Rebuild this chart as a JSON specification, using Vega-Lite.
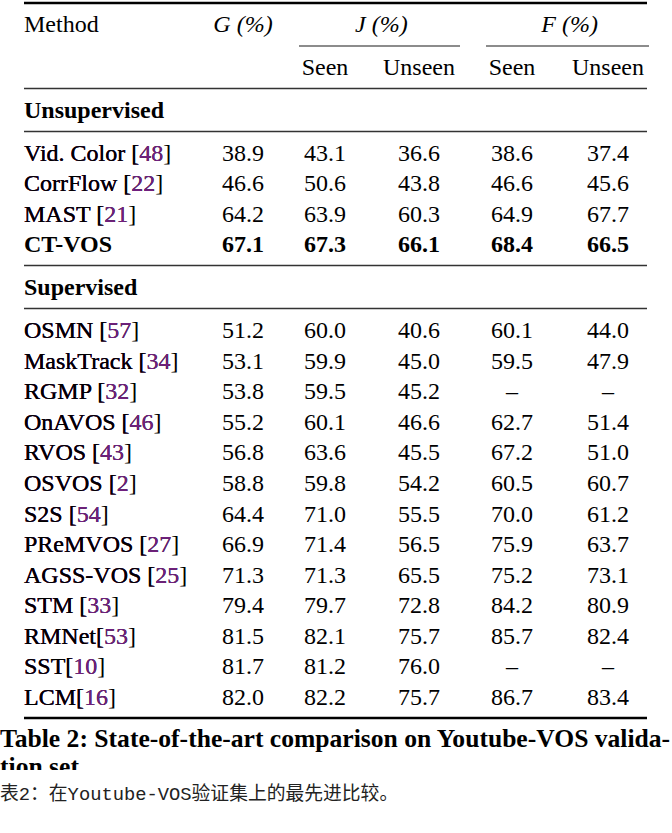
{
  "$schema": "https://vega.github.io/schema/vega-lite/v6.json",
  "width": 672,
  "height": 833,
  "padding": 0,
  "autosize": {"type": "fit", "contains": "padding"},
  "background": "white",
  "config": {"view": {"stroke": null}, "text": {"font": "'Liberation Serif', 'Times New Roman', 'DejaVu Serif', serif"}},
  "datasets": {
    "cells": [
      {"r": 0, "c": 0, "t": "Method", "s": "n"},
      {"r": 0, "c": 1, "t": "G (%)", "s": "i"},
      {"r": 0, "c": 2.6, "t": "J (%)", "s": "i"},
      {"r": 0, "c": 4.6, "t": "F (%)", "s": "i"},
      {"r": 1, "c": 2, "t": "Seen", "s": "n"},
      {"r": 1, "c": 3, "t": "Unseen", "s": "n"},
      {"r": 1, "c": 4, "t": "Seen", "s": "n"},
      {"r": 1, "c": 5, "t": "Unseen", "s": "n"},
      {"r": 2, "c": 0, "t": "Unsupervised", "s": "b"},
      {"r": 3, "c": 0, "t": "Vid. Color [48]", "s": "n"},
      {"r": 3, "c": 1, "t": "38.9", "s": "n"},
      {"r": 3, "c": 2, "t": "43.1", "s": "n"},
      {"r": 3, "c": 3, "t": "36.6", "s": "n"},
      {"r": 3, "c": 4, "t": "38.6", "s": "n"},
      {"r": 3, "c": 5, "t": "37.4", "s": "n"},
      {"r": 4, "c": 0, "t": "CorrFlow [22]", "s": "n"},
      {"r": 4, "c": 1, "t": "46.6", "s": "n"},
      {"r": 4, "c": 2, "t": "50.6", "s": "n"},
      {"r": 4, "c": 3, "t": "43.8", "s": "n"},
      {"r": 4, "c": 4, "t": "46.6", "s": "n"},
      {"r": 4, "c": 5, "t": "45.6", "s": "n"},
      {"r": 5, "c": 0, "t": "MAST [21]", "s": "n"},
      {"r": 5, "c": 1, "t": "64.2", "s": "n"},
      {"r": 5, "c": 2, "t": "63.9", "s": "n"},
      {"r": 5, "c": 3, "t": "60.3", "s": "n"},
      {"r": 5, "c": 4, "t": "64.9", "s": "n"},
      {"r": 5, "c": 5, "t": "67.7", "s": "n"},
      {"r": 6, "c": 0, "t": "CT-VOS", "s": "b"},
      {"r": 6, "c": 1, "t": "67.1", "s": "b"},
      {"r": 6, "c": 2, "t": "67.3", "s": "b"},
      {"r": 6, "c": 3, "t": "66.1", "s": "b"},
      {"r": 6, "c": 4, "t": "68.4", "s": "b"},
      {"r": 6, "c": 5, "t": "66.5", "s": "b"},
      {"r": 7, "c": 0, "t": "Supervised", "s": "b"},
      {"r": 8, "c": 0, "t": "OSMN [57]", "s": "n"},
      {"r": 8, "c": 1, "t": "51.2", "s": "n"},
      {"r": 8, "c": 2, "t": "60.0", "s": "n"},
      {"r": 8, "c": 3, "t": "40.6", "s": "n"},
      {"r": 8, "c": 4, "t": "60.1", "s": "n"},
      {"r": 8, "c": 5, "t": "44.0", "s": "n"},
      {"r": 9, "c": 0, "t": "MaskTrack [34]", "s": "n"},
      {"r": 9, "c": 1, "t": "53.1", "s": "n"},
      {"r": 9, "c": 2, "t": "59.9", "s": "n"},
      {"r": 9, "c": 3, "t": "45.0", "s": "n"},
      {"r": 9, "c": 4, "t": "59.5", "s": "n"},
      {"r": 9, "c": 5, "t": "47.9", "s": "n"},
      {"r": 10, "c": 0, "t": "RGMP [32]", "s": "n"},
      {"r": 10, "c": 1, "t": "53.8", "s": "n"},
      {"r": 10, "c": 2, "t": "59.5", "s": "n"},
      {"r": 10, "c": 3, "t": "45.2", "s": "n"},
      {"r": 10, "c": 4, "t": "–", "s": "n"},
      {"r": 10, "c": 5, "t": "–", "s": "n"},
      {"r": 11, "c": 0, "t": "OnAVOS [46]", "s": "n"},
      {"r": 11, "c": 1, "t": "55.2", "s": "n"},
      {"r": 11, "c": 2, "t": "60.1", "s": "n"},
      {"r": 11, "c": 3, "t": "46.6", "s": "n"},
      {"r": 11, "c": 4, "t": "62.7", "s": "n"},
      {"r": 11, "c": 5, "t": "51.4", "s": "n"},
      {"r": 12, "c": 0, "t": "RVOS [43]", "s": "n"},
      {"r": 12, "c": 1, "t": "56.8", "s": "n"},
      {"r": 12, "c": 2, "t": "63.6", "s": "n"},
      {"r": 12, "c": 3, "t": "45.5", "s": "n"},
      {"r": 12, "c": 4, "t": "67.2", "s": "n"},
      {"r": 12, "c": 5, "t": "51.0", "s": "n"},
      {"r": 13, "c": 0, "t": "OSVOS [2]", "s": "n"},
      {"r": 13, "c": 1, "t": "58.8", "s": "n"},
      {"r": 13, "c": 2, "t": "59.8", "s": "n"},
      {"r": 13, "c": 3, "t": "54.2", "s": "n"},
      {"r": 13, "c": 4, "t": "60.5", "s": "n"},
      {"r": 13, "c": 5, "t": "60.7", "s": "n"},
      {"r": 14, "c": 0, "t": "S2S [54]", "s": "n"},
      {"r": 14, "c": 1, "t": "64.4", "s": "n"},
      {"r": 14, "c": 2, "t": "71.0", "s": "n"},
      {"r": 14, "c": 3, "t": "55.5", "s": "n"},
      {"r": 14, "c": 4, "t": "70.0", "s": "n"},
      {"r": 14, "c": 5, "t": "61.2", "s": "n"},
      {"r": 15, "c": 0, "t": "PReMVOS [27]", "s": "n"},
      {"r": 15, "c": 1, "t": "66.9", "s": "n"},
      {"r": 15, "c": 2, "t": "71.4", "s": "n"},
      {"r": 15, "c": 3, "t": "56.5", "s": "n"},
      {"r": 15, "c": 4, "t": "75.9", "s": "n"},
      {"r": 15, "c": 5, "t": "63.7", "s": "n"},
      {"r": 16, "c": 0, "t": "AGSS-VOS [25]", "s": "n"},
      {"r": 16, "c": 1, "t": "71.3", "s": "n"},
      {"r": 16, "c": 2, "t": "71.3", "s": "n"},
      {"r": 16, "c": 3, "t": "65.5", "s": "n"},
      {"r": 16, "c": 4, "t": "75.2", "s": "n"},
      {"r": 16, "c": 5, "t": "73.1", "s": "n"},
      {"r": 17, "c": 0, "t": "STM [33]", "s": "n"},
      {"r": 17, "c": 1, "t": "79.4", "s": "n"},
      {"r": 17, "c": 2, "t": "79.7", "s": "n"},
      {"r": 17, "c": 3, "t": "72.8", "s": "n"},
      {"r": 17, "c": 4, "t": "84.2", "s": "n"},
      {"r": 17, "c": 5, "t": "80.9", "s": "n"},
      {"r": 18, "c": 0, "t": "RMNet[53]", "s": "n"},
      {"r": 18, "c": 1, "t": "81.5", "s": "n"},
      {"r": 18, "c": 2, "t": "82.1", "s": "n"},
      {"r": 18, "c": 3, "t": "75.7", "s": "n"},
      {"r": 18, "c": 4, "t": "85.7", "s": "n"},
      {"r": 18, "c": 5, "t": "82.4", "s": "n"},
      {"r": 19, "c": 0, "t": "SST[10]", "s": "n"},
      {"r": 19, "c": 1, "t": "81.7", "s": "n"},
      {"r": 19, "c": 2, "t": "81.2", "s": "n"},
      {"r": 19, "c": 3, "t": "76.0", "s": "n"},
      {"r": 19, "c": 4, "t": "–", "s": "n"},
      {"r": 19, "c": 5, "t": "–", "s": "n"},
      {"r": 20, "c": 0, "t": "LCM[16]", "s": "n"},
      {"r": 20, "c": 1, "t": "82.0", "s": "n"},
      {"r": 20, "c": 2, "t": "82.2", "s": "n"},
      {"r": 20, "c": 3, "t": "75.7", "s": "n"},
      {"r": 20, "c": 4, "t": "86.7", "s": "n"},
      {"r": 20, "c": 5, "t": "83.4", "s": "n"},
      {"r": 21, "c": -1, "t": "Table 2: State-of-the-art comparison on Youtube-VOS valida-", "s": "cap"},
      {"r": 22, "c": -1, "t": "tion set", "s": "cap2"},
      {"r": 23, "c": -1, "t": "表2：在Youtube-VOS验证集上的最先进比较。", "s": "zh"}
    ],
    "rules": [
      {"k": "top", "r": 0, "c": 0, "c2": 6},
      {"k": "mid", "r": 1, "c": 0, "c2": 6},
      {"k": "mid", "r": 2, "c": 0, "c2": 6},
      {"k": "mid", "r": 6, "c": 0, "c2": 6},
      {"k": "mid", "r": 7, "c": 0, "c2": 6},
      {"k": "bot", "r": 20, "c": 0, "c2": 6},
      {"k": "cmid", "r": 0, "c": 2, "c2": 3},
      {"k": "cmid", "r": 0, "c": 4, "c2": 5}
    ]
  },
  "encoding": {
    "x": {"field": "c", "type": "quantitative", "axis": null,
          "scale": {"domain": [-1, 0, 1, 2, 3, 4, 5, 6], "range": [0, 24, 243, 325, 419, 512, 608, 647], "nice": false, "zero": false}},
    "y": {"field": "r", "type": "quantitative", "axis": null,
          "scale": {"domain": [0, 1, 2, 3, 6, 7, 8, 20, 21, 22, 23], "range": [32, 75, 118, 161, 252, 295, 338, 705, 747, 775, 800], "nice": false, "zero": false}}
  },
  "layer": [
    {
      "data": {"name": "rules"},
      "transform": [{"filter": "datum.k == 'top'"}],
      "mark": {"type": "rule", "color": "black", "strokeWidth": 2.3, "yOffset": -29},
      "encoding": {"x2": {"field": "c2"}}
    },
    {
      "data": {"name": "rules"},
      "transform": [{"filter": "datum.k == 'bot'"}],
      "mark": {"type": "rule", "color": "black", "strokeWidth": 2.3, "yOffset": 13},
      "encoding": {"x2": {"field": "c2"}}
    },
    {
      "data": {"name": "rules"},
      "transform": [{"filter": "datum.k == 'mid'"}],
      "mark": {"type": "rule", "color": "#333333", "strokeWidth": 1.5, "yOffset": 13.5},
      "encoding": {"x2": {"field": "c2"}}
    },
    {
      "data": {"name": "rules"},
      "transform": [{"filter": "datum.k == 'cmid'"}],
      "mark": {"type": "rule", "color": "#666666", "strokeWidth": 1.4, "yOffset": 14, "xOffset": -26, "x2Offset": 41},
      "encoding": {"x2": {"field": "c2"}}
    },
    {
      "data": {"name": "cells"},
      "transform": [{"filter": "datum.c == 0 && datum.s == 'n'"}],
      "mark": {"type": "text", "align": "left", "baseline": "alphabetic", "fontSize": 24, "color": "black"},
      "encoding": {"text": {"field": "t"}}
    },
    {
      "data": {"name": "cells"},
      "transform": [
        {"filter": "datum.c == 0 && indexof(datum.t, '[') >= 0"},
        {"calculate": "substring(datum.t, 0, length(datum.t) - 1)", "as": "q"}
      ],
      "mark": {"type": "text", "align": "left", "baseline": "alphabetic", "fontSize": 24, "color": "#701f7e"},
      "encoding": {"text": {"field": "q"}}
    },
    {
      "data": {"name": "cells"},
      "transform": [
        {"filter": "datum.c == 0 && indexof(datum.t, '[') >= 0"},
        {"calculate": "substring(datum.t, 0, indexof(datum.t, '[') + 1)", "as": "p"}
      ],
      "mark": {"type": "text", "align": "left", "baseline": "alphabetic", "fontSize": 24, "color": "black"},
      "encoding": {"text": {"field": "p"}}
    },
    {
      "data": {"name": "cells"},
      "transform": [{"filter": "datum.c == 0 && datum.s == 'b'"}],
      "mark": {"type": "text", "align": "left", "baseline": "alphabetic", "fontSize": 24, "fontWeight": "bold", "color": "black"},
      "encoding": {"text": {"field": "t"}}
    },
    {
      "data": {"name": "cells"},
      "transform": [{"filter": "datum.c > 0 && datum.s == 'n'"}],
      "mark": {"type": "text", "align": "center", "baseline": "alphabetic", "fontSize": 24, "color": "black"},
      "encoding": {"text": {"field": "t"}}
    },
    {
      "data": {"name": "cells"},
      "transform": [{"filter": "datum.c > 0 && datum.s == 'b'"}],
      "mark": {"type": "text", "align": "center", "baseline": "alphabetic", "fontSize": 24, "fontWeight": "bold", "color": "black"},
      "encoding": {"text": {"field": "t"}}
    },
    {
      "data": {"name": "cells"},
      "transform": [{"filter": "datum.s == 'i'"}],
      "mark": {"type": "text", "align": "center", "baseline": "alphabetic", "fontSize": 24, "fontStyle": "italic", "color": "black"},
      "encoding": {"text": {"field": "t"}}
    },
    {
      "data": {"name": "cells"},
      "transform": [{"filter": "datum.s == 'cap' || datum.s == 'cap2'"}],
      "mark": {"type": "text", "align": "left", "baseline": "alphabetic", "fontSize": 25.6, "fontWeight": "bold", "color": "black"},
      "encoding": {"text": {"field": "t"}}
    },
    {
      "data": {"name": "cells"},
      "transform": [{"filter": "datum.s == 'cap2'"}],
      "mark": {"type": "rect", "color": "white", "yOffset": -5, "y2Offset": 8, "x2Offset": 25},
      "encoding": {
        "x": {"datum": -1, "type": "quantitative"},
        "x2": {"datum": 6},
        "y2": {"field": "r"}
      }
    },
    {
      "data": {"name": "cells"},
      "transform": [{"filter": "datum.s == 'zh'"}],
      "mark": {"type": "text", "align": "left", "baseline": "alphabetic", "font": "'Liberation Mono', 'Courier New', 'Noto Sans CJK SC', monospace", "fontSize": 18.8, "color": "#222222"},
      "encoding": {"text": {"field": "t"}}
    }
  ]
}
